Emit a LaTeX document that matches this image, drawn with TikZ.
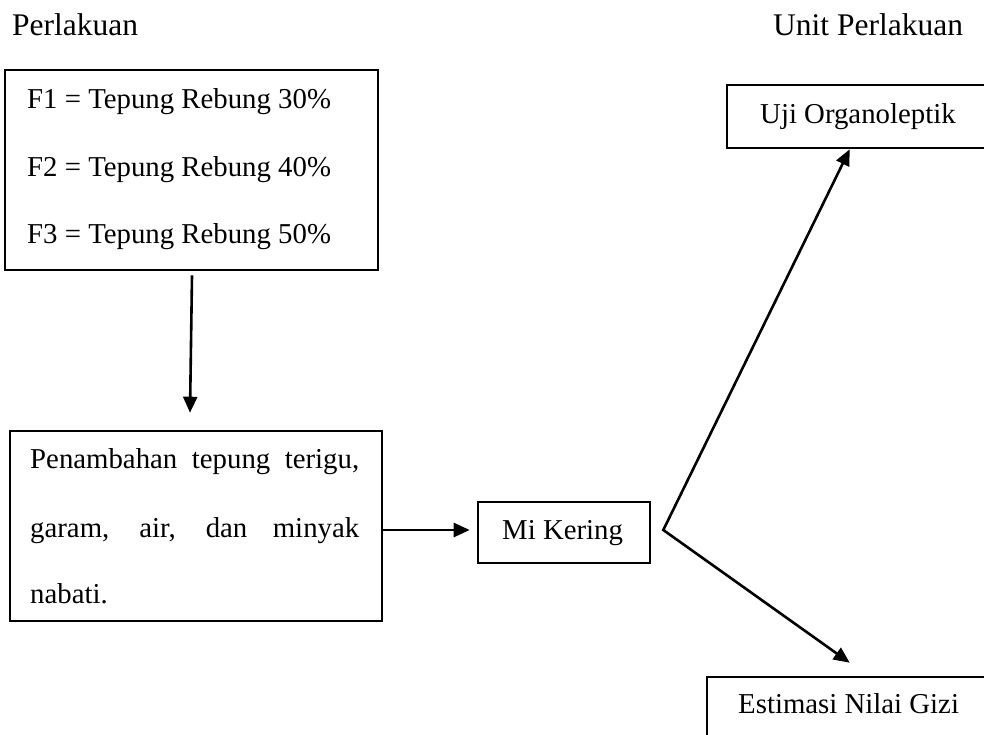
\documentclass[tikz,border=0pt]{standalone}
\usepackage{fontspec}
\setmainfont{Liberation Serif}
\usetikzlibrary{arrows.meta,calc}
\begin{document}
\begin{tikzpicture}[x=1pt,y=-1pt,
  box/.style={draw,line width=2.6pt,rectangle,inner sep=0pt},
  lbl/.style={anchor=base west,inner sep=0pt,font=\fontsize{28.8}{34}\selectfont},
  ttl/.style={anchor=base west,inner sep=0pt,font=\fontsize{31.5}{38}\selectfont},
  conn/.style={line width=2.6pt,-{Triangle[length=16pt,width=14pt]}},
  fork/.style={line width=2.6pt,{Triangle[length=16pt,width=14pt]}-{Triangle[length=16pt,width=14pt]}}]
\useasboundingbox (0,0) rectangle (984,734);
\clip (0,0) rectangle (984,734);
% titles
\node[ttl] (t1) at (12,35) {Perlakuan};
\node[ttl] (t2) at (773,35) {Unit Perlakuan};
% boxes
\node[box, minimum width=373pt, minimum height=200pt] (F) at (191.5,170) {};
\node[box, minimum width=372pt, minimum height=190pt] (P) at (196,526) {};
\node[box, minimum width=172pt, minimum height=61pt] (Mi) at (564,532.5) {};
\node[box, minimum width=283pt, minimum height=63pt] (Uji) at (868.5,116.5) {};
\node[box, minimum width=303pt, minimum height=83pt] (Est) at (858.5,718.5) {};
% texts
\node[lbl] (f1) at (27,108) {F1 = Tepung Rebung 30\%};
\node[lbl] (f2) at (27,176) {F2 = Tepung Rebung 40\%};
\node[lbl] (f3) at (27,243) {F3 = Tepung Rebung 50\%};
\node[lbl] (p1) at (30,468) {\makebox[329pt][s]{Penambahan tepung terigu,}};
\node[lbl] (p2) at (30,537) {\makebox[329pt][s]{garam, air, dan minyak}};
\node[lbl] (p3) at (30,603) {nabati.};
\node[lbl] (mt) at (502,539) {Mi Kering};
\node[lbl] (ut) at (760,123) {Uji Organoleptik};
\node[lbl] (et) at (738,713) {Estimasi Nilai Gizi};
% connectors
\draw[conn] ($(F.south)+(0.5,4)$) -- ($(P.north)+(-6,-17)$);
\draw[conn] ($(P.east)+(0,4)$) -- ($(Mi.west)+(-7,-2.5)$);
\coordinate (v) at ($(Mi.east)+(12,-2.5)$);
\coordinate (ua) at ($(Uji.south west)+(124,0)$);
\coordinate (ea) at ($(Est.north west)+(144,-13)$);
\draw[fork] (ua) -- (v) -- (ea);
\end{tikzpicture}
\end{document}
